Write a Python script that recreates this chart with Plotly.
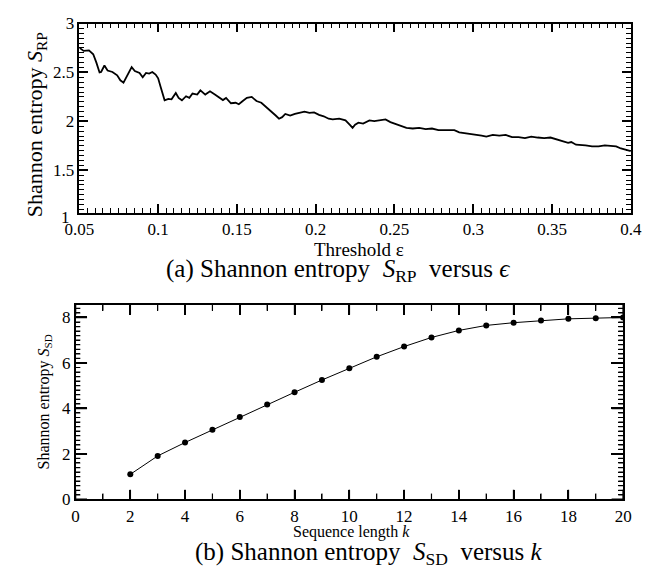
import plotly.graph_objects as go

# ---------------- data ----------------
eps_values = [0.0500, 0.0527, 0.0561, 0.0588, 0.0608, 0.0628, 0.0638, 0.0659, 0.0679, 0.0710,
              0.0740, 0.0760, 0.0780, 0.0801, 0.0832, 0.0852, 0.0882, 0.0902, 0.0923, 0.0943,
              0.0963, 0.0984, 0.1000, 0.1015, 0.1029, 0.1041, 0.1065, 0.1085, 0.1112, 0.1130,
              0.1151, 0.1177, 0.1198, 0.1218, 0.1248, 0.1268, 0.1299, 0.1329, 0.1360, 0.1390,
              0.1411, 0.1431, 0.1462, 0.1492, 0.1512, 0.1537, 0.1563, 0.1594, 0.1624, 0.1655,
              0.1685, 0.1716, 0.1746, 0.1767, 0.1787, 0.1807, 0.1838, 0.1868, 0.1899, 0.1929,
              0.1960, 0.1990, 0.2021, 0.2051, 0.2082, 0.2108, 0.2149, 0.2189, 0.2220, 0.2234,
              0.2250, 0.2271, 0.2301, 0.2321, 0.2341, 0.2372, 0.2402, 0.2443, 0.2474, 0.2515,
              0.2545, 0.2576, 0.2616, 0.2657, 0.2698, 0.2738, 0.2779, 0.2829, 0.2880, 0.2911,
              0.2962, 0.3012, 0.3053, 0.3083, 0.3124, 0.3165, 0.3206, 0.3246, 0.3287, 0.3328,
              0.3368, 0.3409, 0.3450, 0.3490, 0.3530, 0.3571, 0.3602, 0.3622, 0.3652, 0.3683,
              0.3713, 0.3754, 0.3795, 0.3835, 0.3876, 0.3907, 0.3937, 0.3968, 0.4000]
s_rp_values = [2.752, 2.720, 2.726, 2.686, 2.600, 2.500, 2.505, 2.571, 2.520, 2.505,
               2.470, 2.420, 2.396, 2.455, 2.554, 2.515, 2.495, 2.450, 2.495, 2.488,
               2.505, 2.478, 2.440, 2.356, 2.274, 2.215, 2.230, 2.225, 2.290, 2.240,
               2.215, 2.257, 2.240, 2.284, 2.274, 2.317, 2.274, 2.307, 2.274, 2.240,
               2.218, 2.240, 2.185, 2.190, 2.175, 2.208, 2.240, 2.250, 2.208, 2.190,
               2.150, 2.100, 2.060, 2.027, 2.043, 2.076, 2.060, 2.076, 2.092, 2.100,
               2.086, 2.092, 2.066, 2.052, 2.027, 2.020, 2.027, 2.010, 1.960, 1.934,
               1.967, 1.987, 1.977, 1.993, 2.010, 2.003, 2.010, 2.020, 1.993, 1.967,
               1.953, 1.934, 1.927, 1.934, 1.920, 1.927, 1.910, 1.910, 1.910, 1.888,
               1.878, 1.868, 1.854, 1.845, 1.861, 1.854, 1.861, 1.839, 1.839, 1.829,
               1.845, 1.835, 1.829, 1.835, 1.812, 1.795, 1.780, 1.789, 1.762, 1.762,
               1.755, 1.745, 1.745, 1.755, 1.745, 1.745, 1.723, 1.706, 1.696]

k_values = [2, 3, 4, 5, 6, 7, 8, 9, 10, 11, 12, 13, 14, 15, 16, 17, 18, 19, 20]
s_sd_values = [1.10, 1.91, 2.50, 3.06, 3.62, 4.17, 4.71, 5.25, 5.77, 6.27,
               6.72, 7.12, 7.43, 7.65, 7.77, 7.87, 7.94, 7.97, 8.00]

FONT = "Liberation Serif"
W, H = 662, 579

fig = go.Figure()
fig.add_trace(go.Scatter(x=eps_values, y=s_rp_values, mode="lines",
                         line=dict(color="black", width=1.8),
                         xaxis="x", yaxis="y", showlegend=False))
fig.add_trace(go.Scatter(x=k_values, y=s_sd_values, mode="lines+markers",
                         line=dict(color="black", width=1),
                         marker=dict(color="black", size=6),
                         xaxis="x2", yaxis="y2", showlegend=False))

def px_x(p):
    return p / W

def px_y(p):
    return 1 - p / H

def axis_style(major_w, minor_w, major_len, minor_len, dt, t0, mdt, mt0):
    return dict(showgrid=False, zeroline=False, showline=True, linecolor="black",
                linewidth=1.5, mirror="allticks", ticks="inside", tickcolor="black",
                tickwidth=major_w, ticklen=major_len, tickmode="linear",
                tick0=t0, dtick=dt,
                tickfont=dict(family=FONT, size=17, color="black"),
                minor=dict(tickmode="linear", dtick=mdt, tick0=mt0, ticklen=minor_len,
                           ticks="inside", tickcolor="black", tickwidth=minor_w,
                           showgrid=False))

B_LEFT, B_RIGHT, B_TOP, B_BOTTOM = 63, 633, 306, 507

fig.update_layout(
    width=W, height=H,
    margin=dict(l=0, r=0, t=0, b=0),
    paper_bgcolor="white", plot_bgcolor="white",
    font=dict(family=FONT, color="black", size=17),
    xaxis=dict(domain=[px_x(67), px_x(641)], range=[0.05, 0.4], anchor="y",
               **axis_style(1.5, 1.2, 9, 5, 0.05, 0.05, 0.005, 0.05)),
    yaxis=dict(domain=[px_y(211), px_y(15)], range=[1.063, 3], anchor="x",
               **axis_style(1.5, 1.2, 9, 5, 0.5, 1, 0.05, 1)),
    xaxis2=dict(domain=[px_x(B_LEFT), px_x(B_RIGHT)], range=[0, 20], anchor="y2",
                **axis_style(1.5, 1.2, 10, 6, 2, 0, 1, 0)),
    yaxis2=dict(domain=[px_y(B_BOTTOM), px_y(B_TOP)], range=[0, 8.55], anchor="x2",
                **axis_style(1.5, 1.2, 12, 5, 2, 0, 0.2, 0)),
)

# inside tick marks of the lower panel, generated from the tick steps
shapes = []
bw = B_RIGHT - B_LEFT
bh = B_BOTTOM - B_TOP
line_major = dict(color="black", width=1.5)
line_minor = dict(color="black", width=1.2)
for i in range(0, 21):
    ln = 10 if i % 2 == 0 else 6
    f = ln / bh
    ls = line_major if i % 2 == 0 else line_minor
    shapes.append(dict(type="line", xref="x2", yref="y2 domain", x0=i, x1=i,
                       y0=0, y1=f, line=ls, layer="above"))
    shapes.append(dict(type="line", xref="x2", yref="y2 domain", x0=i, x1=i,
                       y0=1, y1=1 - f, line=ls, layer="above"))
for j in range(0, 43):
    v = round(j * 0.2, 6)
    is_major = j % 10 == 0
    ln = 12 if is_major else 5
    f = ln / bw
    ls = line_major if is_major else line_minor
    shapes.append(dict(type="line", xref="x2 domain", yref="y2", x0=0, x1=f,
                       y0=v, y1=v, line=ls, layer="above"))
    shapes.append(dict(type="line", xref="x2 domain", yref="y2", x0=1, x1=1 - f,
                       y0=v, y1=v, line=ls, layer="above"))
fig.update_layout(shapes=shapes)

ann = []
# extra "1" tick label at the lower corner of the upper panel
ann.append(dict(text="1", x=px_x(59), y=px_y(216), xref="paper", yref="paper",
                xanchor="right", yanchor="middle", showarrow=False,
                font=dict(family=FONT, size=17, color="black")))
# axis titles, top panel
ann.append(dict(text="Threshold ε", x=px_x(358), y=px_y(249), xref="paper", yref="paper",
                xanchor="center", yanchor="middle", showarrow=False,
                font=dict(family=FONT, size=19, color="black")))
ann.append(dict(text="Shannon entropy <i>S</i><sub>RP</sub>", x=px_x(22), y=px_y(120),
                xref="paper", yref="paper", textangle=-90,
                xanchor="center", yanchor="middle", showarrow=False,
                font=dict(family=FONT, size=22, color="black")))
ann.append(dict(text="(a) Shannon entropy  <i>S</i><sub>RP</sub>  versus <i>ϵ</i>",
                x=px_x(336), y=px_y(270), xref="paper", yref="paper",
                xanchor="center", yanchor="middle", showarrow=False,
                font=dict(family=FONT, size=25, color="black")))
# axis titles, bottom panel
ann.append(dict(text="Sequence length <i>k</i>", x=px_x(350), y=px_y(541),
                xref="paper", yref="paper", xanchor="center", yanchor="middle",
                showarrow=False, font=dict(family=FONT, size=16, color="black")))
ann.append(dict(text="Shannon entropy <i>S</i><sub>SD</sub>", x=px_x(31), y=px_y(406),
                xref="paper", yref="paper", textangle=-90,
                xanchor="center", yanchor="middle", showarrow=False,
                font=dict(family=FONT, size=16, color="black")))
ann.append(dict(text="(b) Shannon entropy  <i>S</i><sub>SD</sub>  versus <i>k</i>",
                x=px_x(368), y=px_y(563), xref="paper", yref="paper",
                xanchor="center", yanchor="middle", showarrow=False,
                font=dict(family=FONT, size=25, color="black")))
fig.update_layout(annotations=ann)

fig.write_html("out.html")
